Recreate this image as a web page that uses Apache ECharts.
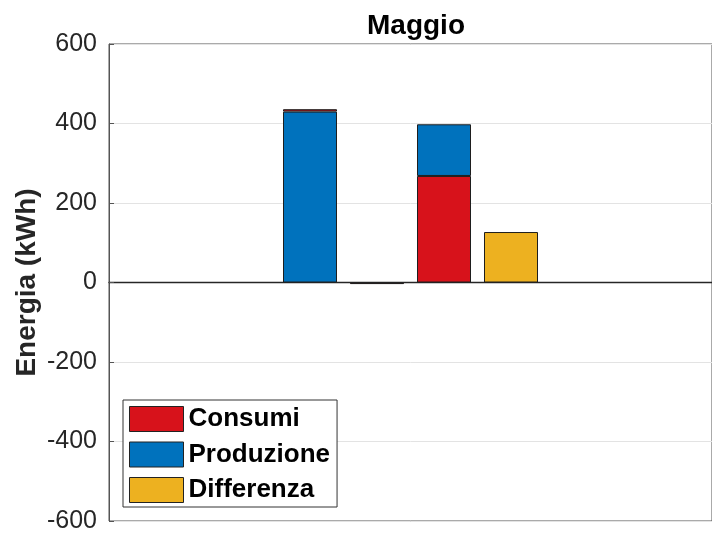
<!DOCTYPE html>
<html>
<head>
<meta charset="utf-8">
<script src="https://cdn.jsdelivr.net/npm/echarts@6/dist/echarts.min.js"></script>
<style>html,body{margin:0;padding:0;background:#fff}#c{width:712px;height:537px}</style>
</head>
<body>
<div id="c"></div>
<script>
// Data
const categories = ['0', '1', '2', '3', '4', '5', '6', '7', '8', '9'];
const consumi =    [null, null, null, null, -4, 268, null, null, null, null];
const produzione = [null, null, null, 430, null, 130, null, null, null, null];
const consumiTop = [null, null, null, 6, null, null, null, null, null, null];
const differenza = [null, null, null, null, null, null, 127, null, null, null];
const yTicks = [-600, -400, -200, 0, 200, 400, 600];
const title = 'Maggio';
const yName = 'Energia (kWh)';

const FONT = '"Liberation Sans", Arial, Helvetica, sans-serif';
const border = { borderColor: '#1e1e1e', borderWidth: 1 };

const chart = echarts.init(document.getElementById('c'), null, { renderer: 'canvas' });
chart.setOption({
  animation: false,
  backgroundColor: '#fff',
  title: {
    text: title, left: 411, top: 7, textAlign: 'center',
    textStyle: { fontFamily: FONT, fontSize: 28, fontWeight: 'bold', color: '#000' }
  },
  grid: {
    left: 109, top: 44, width: 603, height: 477,
    show: true, borderColor: '#555', borderWidth: 1, backgroundColor: '#fff'
  },
  legend: {
    orient: 'vertical', left: 123, top: 400,
    data: ['Consumi', 'Produzione', 'Differenza'],
    itemWidth: 54, itemHeight: 25, itemGap: 9.5,
    padding: [6, 7, 4, 6],
    borderColor: '#333', borderWidth: 1, backgroundColor: '#fff',
    icon: 'rect',
    itemStyle: { borderColor: '#222', borderWidth: 1 },
    textStyle: { fontFamily: FONT, fontSize: 26, fontWeight: 'bold', color: '#000' }
  },
  xAxis: {
    type: 'category', data: categories, boundaryGap: false,
    axisLine: { show: true, onZero: true, lineStyle: { color: '#262626', width: 1.3 } },
    axisTick: { show: false }, axisLabel: { show: false }, splitLine: { show: false }
  },
  yAxis: {
    type: 'value', min: -600, max: 600, interval: 200,
    name: yName, nameLocation: 'middle', nameGap: 68, nameMoveOverlap: false,
    nameTextStyle: { fontFamily: FONT, fontSize: 28, fontWeight: 'bold', color: '#262626' },
    axisLine: { show: true, lineStyle: { color: '#555' } },
    axisTick: { show: true, inside: true, length: 5, lineStyle: { color: '#555' } },
    axisLabel: {
      fontFamily: FONT, fontSize: 25, color: '#262626', margin: 12,
      formatter: v => yTicks.includes(v) ? String(v) : ''
    },
    splitLine: { show: true, lineStyle: { color: '#e3e3e3', width: 1 } }
  },
  series: [
    { name: 'Consumi', type: 'bar', stack: 's', barWidth: 54, data: consumi,
      itemStyle: Object.assign({ color: '#d7121b' }, border), z: 3 },
    { name: 'Produzione', type: 'bar', stack: 's', barWidth: 54, data: produzione,
      itemStyle: Object.assign({ color: '#0072bd' }, border), z: 3 },
    { name: 'Consumi', type: 'bar', stack: 's', barWidth: 54, data: consumiTop,
      itemStyle: Object.assign({ color: '#d7121b' }, border), z: 3 },
    { name: 'Differenza', type: 'bar', stack: 's', barWidth: 54, data: differenza,
      itemStyle: Object.assign({ color: '#edb120' }, border), z: 3 }
  ]
});
</script>
</body>
</html>
